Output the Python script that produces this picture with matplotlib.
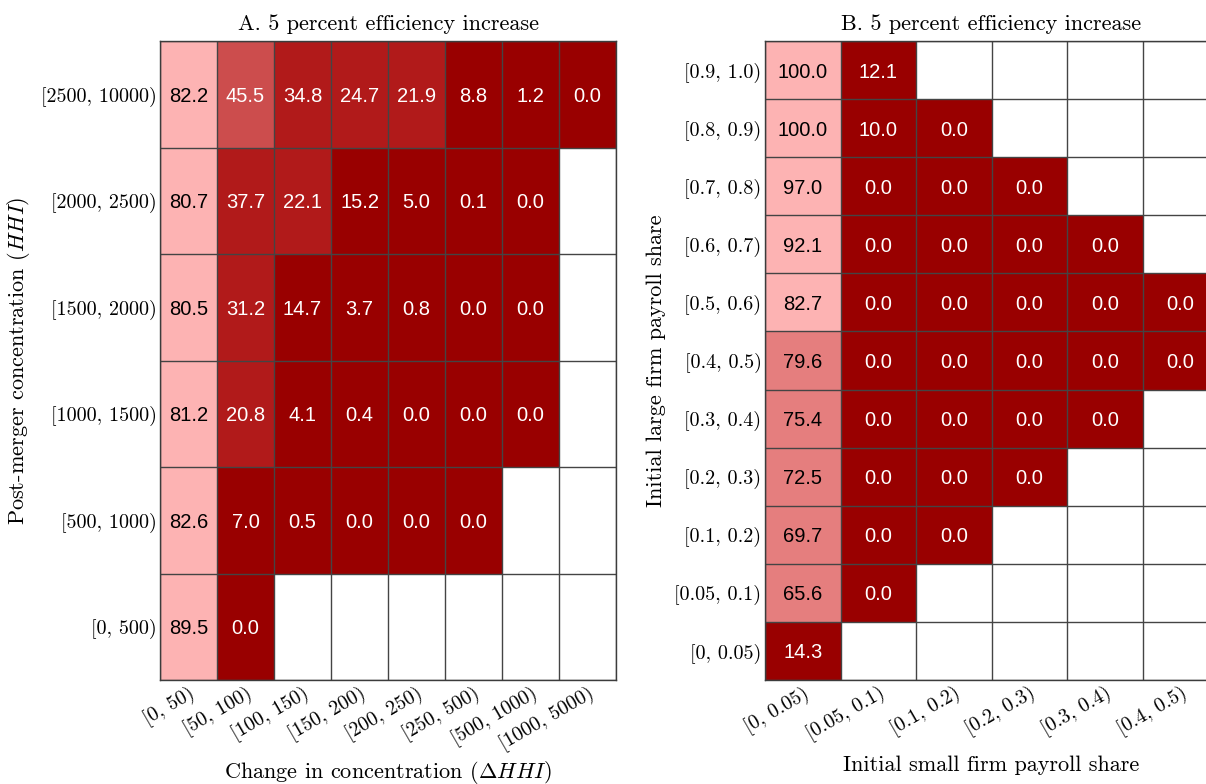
import matplotlib
matplotlib.use("Agg")
import matplotlib.pyplot as plt
import numpy as np
from matplotlib.colors import ListedColormap, BoundaryNorm

plt.rcParams["font.family"] = ["cmr10", "DejaVu Serif"]
plt.rcParams["mathtext.fontset"] = "cm"
plt.rcParams["axes.formatter.use_mathtext"] = True

nan = np.nan

# panel A data (rows from top to bottom)
hhi_rows = ["[2500, 10000)", "[2000, 2500)", "[1500, 2000)", "[1000, 1500)",
            "[500, 1000)", "[0, 500)"]
dhhi_cols = ["[0, 50)", "[50, 100)", "[100, 150)", "[150, 200)", "[200, 250)",
             "[250, 500)", "[500, 1000)", "[1000, 5000)"]
vals_a = [
    [82.2, 45.5, 34.8, 24.7, 21.9, 8.8, 1.2, 0.0],
    [80.7, 37.7, 22.1, 15.2, 5.0, 0.1, 0.0, nan],
    [80.5, 31.2, 14.7, 3.7, 0.8, 0.0, 0.0, nan],
    [81.2, 20.8, 4.1, 0.4, 0.0, 0.0, 0.0, nan],
    [82.6, 7.0, 0.5, 0.0, 0.0, 0.0, nan, nan],
    [89.5, 0.0, nan, nan, nan, nan, nan, nan],
]

# panel B data (rows from top to bottom)
large_rows = ["[0.9, 1.0)", "[0.8, 0.9)", "[0.7, 0.8)", "[0.6, 0.7)", "[0.5, 0.6)",
              "[0.4, 0.5)", "[0.3, 0.4)", "[0.2, 0.3)", "[0.1, 0.2)", "[0.05, 0.1)",
              "[0, 0.05)"]
small_cols = ["[0, 0.05)", "[0.05, 0.1)", "[0.1, 0.2)", "[0.2, 0.3)", "[0.3, 0.4)",
              "[0.4, 0.5)"]
vals_b = [
    [100.0, 12.1, nan, nan, nan, nan],
    [100.0, 10.0, 0.0, nan, nan, nan],
    [97.0, 0.0, 0.0, 0.0, nan, nan],
    [92.1, 0.0, 0.0, 0.0, 0.0, nan],
    [82.7, 0.0, 0.0, 0.0, 0.0, 0.0],
    [79.6, 0.0, 0.0, 0.0, 0.0, 0.0],
    [75.4, 0.0, 0.0, 0.0, 0.0, nan],
    [72.5, 0.0, 0.0, 0.0, nan, nan],
    [69.7, 0.0, 0.0, nan, nan, nan],
    [65.6, 0.0, nan, nan, nan, nan],
    [14.3, nan, nan, nan, nan, nan],
]

cmap = ListedColormap(["#990000", "#B11A1A", "#CC4D4D", "#E57E7E", "#FDB3B3"])
norm = BoundaryNorm([0, 20, 40, 60, 80, 100.01], cmap.N)


def heatmap(ax, vals, rows, cols, title, xlabel, ylabel, xpad):
    data = np.ma.masked_invalid(np.array(vals, dtype=float))
    nr, nc = data.shape
    ax.pcolormesh(np.arange(nc + 1), np.arange(nr + 1), data, cmap=cmap, norm=norm)
    ax.set_xlim(0, nc)
    ax.set_ylim(nr, 0)
    for i in range(nr):
        for j in range(nc):
            v = data[i, j]
            if np.ma.is_masked(v):
                continue
            ax.text(j + 0.5, i + 0.5, "%.1f" % v, ha="center", va="center_baseline",
                    fontsize=14.5, family="Liberation Sans",
                    color="black" if v >= 60 else "white")
    ax.set_xticks(np.arange(nc) + 0.5)
    ax.set_xticklabels(cols, rotation=30, ha="right", rotation_mode="anchor",
                       fontsize=14.5)
    ax.set_yticks(np.arange(nr) + 0.5)
    ax.set_yticklabels(rows, fontsize=14.5)
    ax.set_xticks(np.arange(nc + 1), minor=True)
    ax.set_yticks(np.arange(nr + 1), minor=True)
    ax.grid(which="minor", color="#444444", lw=1)
    ax.tick_params(which="both", length=0, pad=2.5)
    for s in ax.spines.values():
        s.set_color("#3c3c3c")
        s.set_linewidth(1)
    ax.set_title(title, fontsize=16, pad=8)
    ax.set_xlabel(xlabel, fontsize=16, labelpad=xpad)
    ax.set_ylabel(ylabel, fontsize=16, labelpad=6)


fig = plt.figure(figsize=(12.06, 7.84), dpi=100)
ax_a = fig.add_axes([160 / 1206, 104 / 784, 456 / 1206, 639 / 784])
ax_b = fig.add_axes([765 / 1206, 104 / 784, 453 / 1206, 639 / 784])

heatmap(ax_a, vals_a, hhi_rows, dhhi_cols, "A. 5 percent efficiency increase",
        r"Change in concentration ($\Delta HHI$)",
        r"Post-merger concentration ($HHI$)", 3.5)
heatmap(ax_b, vals_b, large_rows, small_cols, "B. 5 percent efficiency increase",
        "Initial small firm payroll share", "Initial large firm payroll share", 8)

fig.savefig("out.png", dpi=100)
